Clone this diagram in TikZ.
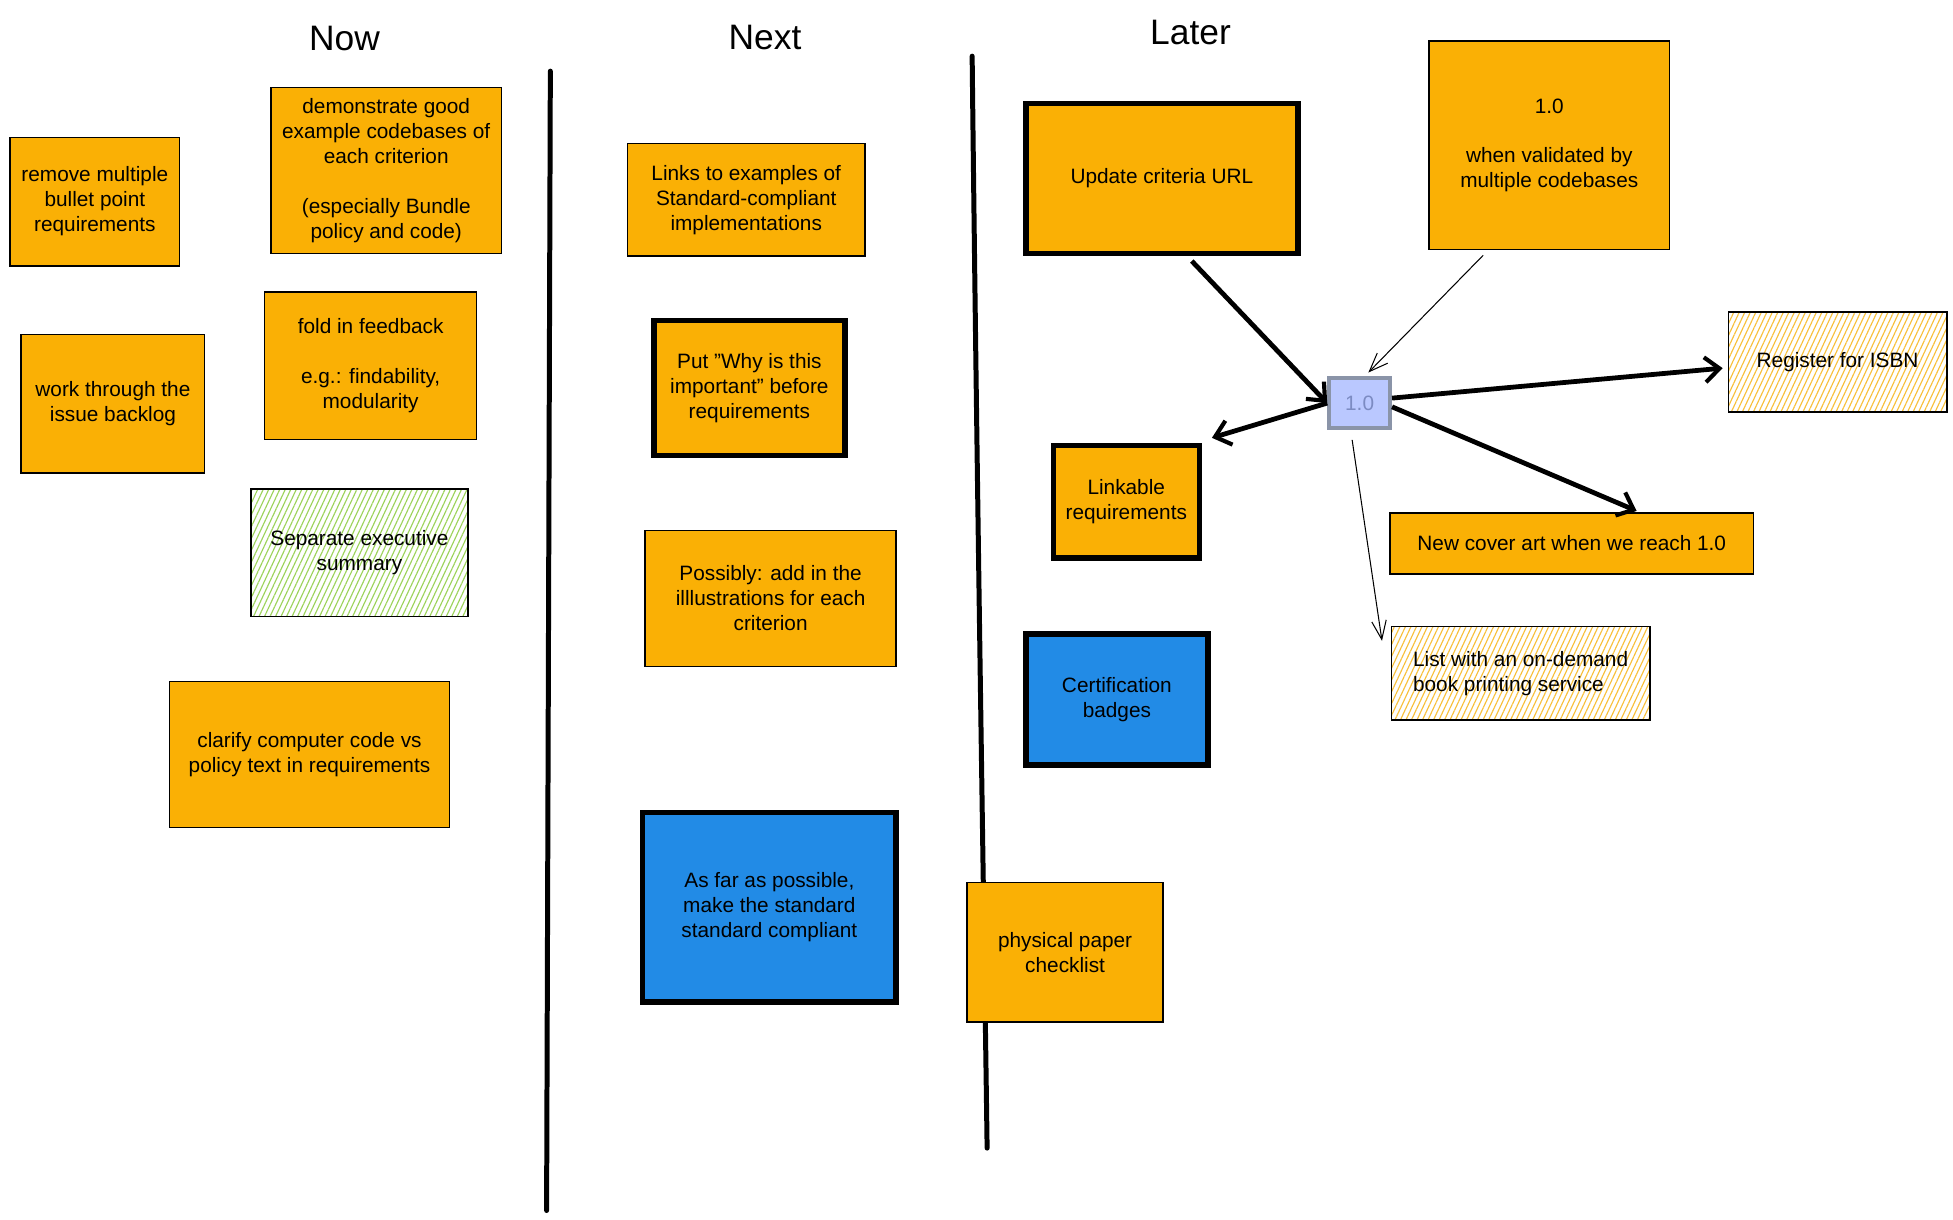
\documentclass[tikz,border=0pt]{standalone}
\usepackage{fontspec}
\setmainfont{Liberation Sans}
\usetikzlibrary{calc,arrows.meta,patterns.meta}
\definecolor{orfill}{HTML}{FAB005}
\definecolor{blfill}{HTML}{228BE6}
\definecolor{grhatch}{HTML}{9CD35A}
\definecolor{yehatch}{HTML}{F8C03A}
\definecolor{vfill}{HTML}{BAC8FF}
\definecolor{vdraw}{HTML}{8A94A8}
\definecolor{vtext}{HTML}{7C8BC2}
\tikzset{
  place/.style args={#1/#2/#3/#4}{at={({(#1+#3)/2},{(#2+#4)/2})},
    minimum width={(#3-#1)*0.6pt}, minimum height={(#4-#2)*0.6pt}},
  card/.style={draw=black, line width=0.7pt, fill=orfill, inner sep=0pt, align=center,
    font=\fontsize{10}{12}\selectfont},
  thickcard/.style={card, line width=2.6pt},
  bluecard/.style={thickcard, fill=blfill},
  greencard/.style={card, fill=none, pattern={Lines[angle=65,distance=2.4pt,line width=0.55pt]}, pattern color=grhatch},
  yellowcard/.style={card, fill=none, pattern={Lines[angle=65,distance=2.4pt,line width=0.55pt]}, pattern color=yehatch},
  title/.style={font=\fontsize{17}{20}\selectfont},
  lane/.style={line width=2.4pt, line cap=round},
  bigarrow/.style={line width=2.3pt, -{Straight Barb[length=7pt,width=12pt,line width=2pt]}},
  thinarrow/.style={line width=0.5pt, -{Straight Barb[length=9pt,width=7pt,line width=0.5pt]}},
}
\begin{document}
\begin{tikzpicture}[x=0.6pt,y=-0.6pt]
\useasboundingbox (0,0) rectangle (1565,977);
\fill[white] (0,0) rectangle (1565,977);

% lanes
\draw[lane] (441,57) -- (438,970);
\draw[lane] (779,45) .. controls (783,400) and (788,700) .. (791,920);

% titles
\node[title] (tnow) at (276,31) {Now};
\node[title] (tnext) at (613,30) {Next};
\node[title] (tlater) at (954,26) {Later};

% Now column
\node[card, place=8/110/144/213] (rm) {remove multiple\\bullet point\\requirements};
\node[card, place=217/70/402/203] (demo) {demonstrate good\\example codebases of\\each criterion\\[12pt](especially Bundle\\policy and code)};
\node[card, place=17/268/164/379] (work) {work through the\\issue backlog};
\node[card, place=212/234/382/352] (fold) {fold in feedback\\[12pt]e.g.: findability,\\modularity};
\node[greencard, place=201/392/375/494] (sep) {Separate executive\\summary};
\node[card, place=136/546/360/663] (clar) {clarify computer code vs\\policy text in requirements};

% Next column
\node[card, place=503/115/693/205] (links) {Links to examples of\\Standard-compliant\\implementations};
\node[thickcard, place=524/257/677/365] (why) {Put \char34 Why is this\\important\char34{} before\\requirements};
\node[card, place=517/425/718/534] (poss) {Possibly: add in the\\illlustrations for each\\criterion};
\node[bluecard, place=515/651/718/803] (far) {As far as possible,\\make the standard\\standard compliant};

% Later column
\node[thickcard, place=822/83/1040/203] (upd) {Update criteria URL};
\node[card, place=1145/33/1338/200] (val) {1.0\\[12pt]when validated by\\multiple codebases};
\node[draw=vdraw, line width=1.8pt, fill=vfill, text=vtext, inner sep=0pt,
  font=\fontsize{10}{12}\selectfont, place=1065/303/1114/343] (v10) {1.0};
\node[yellowcard, place=1385/250/1560/330] (isbn) {Register for ISBN};
\node[thickcard, place=844/357/961/447] (link) {Linkable\\requirements};
\node[card, place=1114/411/1405/460] (cover) {New cover art when we reach 1.0};
\node[bluecard, place=822/508/968/613] (cert) {Certification\\badges};
\node[yellowcard, place=1115/502/1322/577, align=left] (list) {List with an on-demand\\book printing service};
\node[card, place=775/707/932/819] (phys) {physical paper\\checklist};

% connectors
\draw[bigarrow] ($(upd.south)+(24,4)$) -- (v10.west);
\draw[thinarrow] ($(val.south)+(-53,4)$) -- ($(v10.north)+(7,-3)$);
\draw[bigarrow] (v10.west) -- ($(link.north east)+(8,-4)$);
\draw[bigarrow] ($(v10.east)+(0,-4)$) -- ($(isbn.west)+(-4,5)$);
\draw[bigarrow] ($(v10.east)+(0,3)$) -- ($(cover.north)+(52,-1)$);
\draw[thinarrow] ($(v10.south)+(-6,8)$) -- ($(list.west)+(-7,-26)$);
\end{tikzpicture}
\end{document}
